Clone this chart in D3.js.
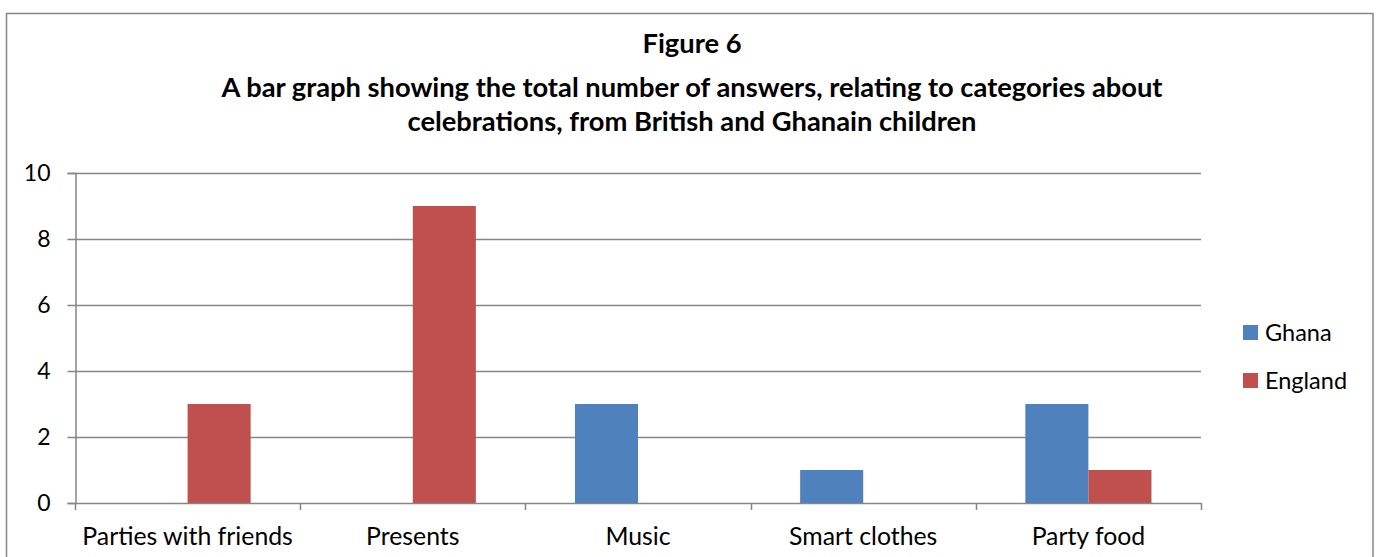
<!DOCTYPE html>
<html>
<head>
<meta charset="utf-8">
<script src="https://cdn.jsdelivr.net/npm/d3@7"></script>
<style>
  html, body { margin: 0; padding: 0; background: #fff; }
  svg { display: block; }
  text { font-family: Lato, "Open Sans", sans-serif; fill: #000; }
</style>
</head>
<body>
<svg id="chart" width="1381" height="557"></svg>
<script>
// Categories and answer counts per country
const categories = ["Parties with friends", "Presents", "Music", "Smart clothes", "Party food"];
const seriesNames = ["Ghana", "England"];
const ghana = [0, 0, 3, 1, 3];
const england = [3, 9, 0, 0, 1];
const yTicks = [0, 2, 4, 6, 8, 10];
const titleLines = [
  "Figure 6",
  "A bar graph showing the total number of answers, relating to categories about",
  "celebrations, from British and Ghanain children"
];
const colors = ["#4F81BD", "#C0504D"];

const svg = d3.select("#chart");
const W = 1381, H = 557;

// outer frame of the chart area
svg.append("rect")
  .attr("x", 6.5).attr("y", 13.5)
  .attr("width", 1366.5).attr("height", H + 20)
  .attr("fill", "#fff").attr("stroke", "#868686").attr("stroke-width", 1.5);

// title
const title = svg.append("text")
  .attr("text-anchor", "middle")
  .style("font-weight", "bold")
  .style("font-size", "27.3px");
const titleY = [53, 97, 131];
titleLines.forEach((t, i) => {
  title.append("tspan").attr("x", 692).attr("y", titleY[i]).text(t);
});

const margin = { left: 75, right: 1201, top: 173, bottom: 503 };

const x0 = d3.scaleBand().domain(categories)
  .range([margin.left, margin.right]).paddingInner(0).paddingOuter(0);
const x1 = d3.scaleBand().domain(seriesNames)
  .range([0, x0.bandwidth()]).paddingInner(0).paddingOuter(0.786);
const y = d3.scaleLinear().domain([0, 10]).range([margin.bottom, margin.top]);

const gridColor = "#868686";

// horizontal gridlines
svg.append("g").selectAll("line").data(yTicks.filter(d => d > 0)).join("line")
  .attr("x1", margin.left).attr("x2", margin.right)
  .attr("y1", d => Math.round(y(d)) + 0.5).attr("y2", d => Math.round(y(d)) + 0.5)
  .attr("stroke", gridColor).attr("stroke-width", 1.5);

// bars
const rows = categories.map((c, i) => ({ cat: c, vals: [ghana[i], england[i]] }));
const groups = svg.append("g").selectAll("g").data(rows).join("g")
  .attr("transform", d => `translate(${x0(d.cat)},0)`);
groups.selectAll("rect")
  .data(d => d.vals.map((v, j) => ({ name: seriesNames[j], v, j })).filter(e => e.v > 0))
  .join("rect")
  .attr("x", e => x1(e.name))
  .attr("width", x1.bandwidth())
  .attr("y", e => y(e.v))
  .attr("height", e => y(0) - y(e.v))
  .attr("fill", e => colors[e.j]);

// y axis
const yAxis = d3.axisLeft(y).tickValues(yTicks).tickSize(8).tickPadding(17).tickFormat(d3.format("d"));
const gy = svg.append("g").attr("transform", `translate(${margin.left + 0.5},0)`).call(yAxis);
gy.select(".domain").attr("stroke", gridColor).attr("stroke-width", 1.5);
gy.selectAll(".tick line").attr("stroke", gridColor).attr("stroke-width", 1.5);
gy.selectAll(".tick text").style("font-size", "23px").style("font-family", "Lato, sans-serif").attr("fill", "#000");

// x axis with ticks at category boundaries
svg.append("line")
  .attr("x1", margin.left).attr("x2", margin.right)
  .attr("y1", y(0) + 0.5).attr("y2", y(0) + 0.5)
  .attr("stroke", gridColor).attr("stroke-width", 1.5);
const bounds = categories.map(c => x0(c)).concat([margin.right]);
svg.append("g").selectAll("line").data(bounds).join("line")
  .attr("x1", d => Math.round(d) + 0.5).attr("x2", d => Math.round(d) + 0.5)
  .attr("y1", y(0)).attr("y2", y(0) + 7)
  .attr("stroke", gridColor).attr("stroke-width", 1.5);
svg.append("g").selectAll("text").data(categories).join("text")
  .attr("x", d => x0(d) + x0.bandwidth() / 2)
  .attr("y", 545)
  .attr("text-anchor", "middle")
  .style("font-size", "24.8px")
  .text(d => d);

// legend
const legend = svg.append("g").selectAll("g").data(seriesNames).join("g")
  .attr("transform", (d, i) => `translate(1243,${325 + i * 48})`);
legend.append("rect").attr("width", 15).attr("height", 15).attr("fill", (d, i) => colors[i]);
legend.append("text").attr("x", 22).attr("y", 16).style("font-size", "23.5px").text(d => d);
</script>
</body>
</html>
